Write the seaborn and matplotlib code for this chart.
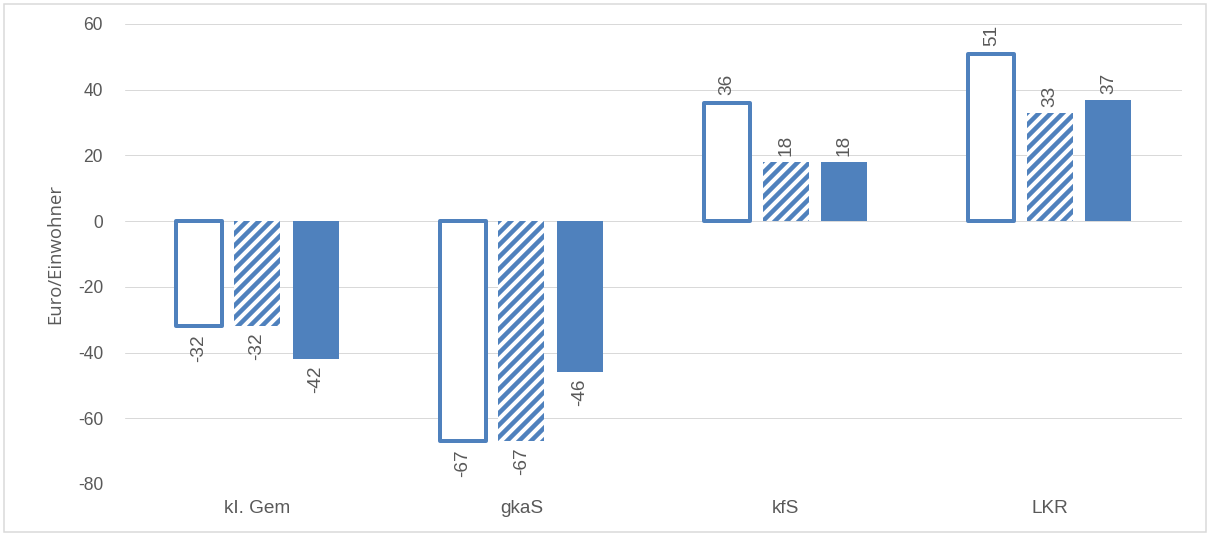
import pandas as pd
import matplotlib.pyplot as plt
import matplotlib.patches as mpatches
import seaborn as sns

# Daten
kategorien = ['kI. Gem', 'gkaS', 'kfS', 'LKR']
serie_1 = [-32, -67, 36, 51]
serie_2 = [-32, -67, 18, 33]
serie_3 = [-42, -46, 18, 37]
serien = ['Serie 1', 'Serie 2', 'Serie 3']
y_ticks = [-80, -60, -40, -20, 0, 20, 40, 60]

blau = '#4f81bd'
grau = '#595959'

data = pd.DataFrame({
    'Kategorie': kategorien * 3,
    'Wert': serie_1 + serie_2 + serie_3,
    'Serie': [serien[0]] * 4 + [serien[1]] * 4 + [serien[2]] * 4,
})

sns.set_theme(style='white')
plt.rcParams['font.family'] = ['Liberation Sans', 'DejaVu Sans']
plt.rcParams['axes.unicode_minus'] = False
plt.rcParams['hatch.linewidth'] = 4.5

fig = plt.figure(figsize=(1210 / 72, 535 / 72), dpi=72)
ax = fig.add_axes([125 / 1210, 1 - 484 / 535, 1057 / 1210, 460 / 535])

sns.barplot(data=data, x='Kategorie', y='Wert', hue='Serie', order=kategorien,
            palette=[blau] * 3, width=0.664, gap=0.21, legend=False, ax=ax,
            saturation=1)

# Serie 1: nur Umriss
for p in ax.containers[0]:
    p.set_facecolor('white')
    p.set_edgecolor(blau)
    p.set_linewidth(4)
    p.set_joinstyle('round')
# Serie 2: schraffiert
for p in ax.containers[1]:
    p.set_facecolor('white')
    p.set_edgecolor(blau)
    p.set_linewidth(0)
    p.set_hatch('//')
# Serie 3: gefüllt
for p in ax.containers[2]:
    p.set_facecolor(blau)
    p.set_linewidth(0)

for i, c in enumerate(ax.containers):
    ax.bar_label(c, fmt='%d', rotation=90, padding=8 if i == 0 else 6,
                 fontsize=19, color=grau)

ax.set_ylim(-80, 60)
ax.set_yticks(y_ticks)
ax.set_xlim(-0.5, 3.5)
ax.grid(axis='y', color='#d9d9d9', linewidth=1)
ax.set_axisbelow(True)
for s in ax.spines.values():
    s.set_visible(False)
ax.tick_params(axis='y', length=0, labelsize=17.5, colors=grau, pad=22)
ax.tick_params(axis='x', length=0, labelsize=19, colors=grau, pad=16)
ax.set_xlabel('')
ax.set_ylabel('Euro/Einwohner', fontsize=18.5, color=grau, labelpad=14,
              family=['Open Sans', 'DejaVu Sans'])

# Rahmen um die Grafik
fig.patches.append(mpatches.Rectangle((4 / 1210, 3 / 535), 1202 / 1210, 528 / 535,
                                      transform=fig.transFigure, fill=False,
                                      edgecolor='#d9d9d9', linewidth=1.5))

fig.savefig('out.png', dpi=72)
